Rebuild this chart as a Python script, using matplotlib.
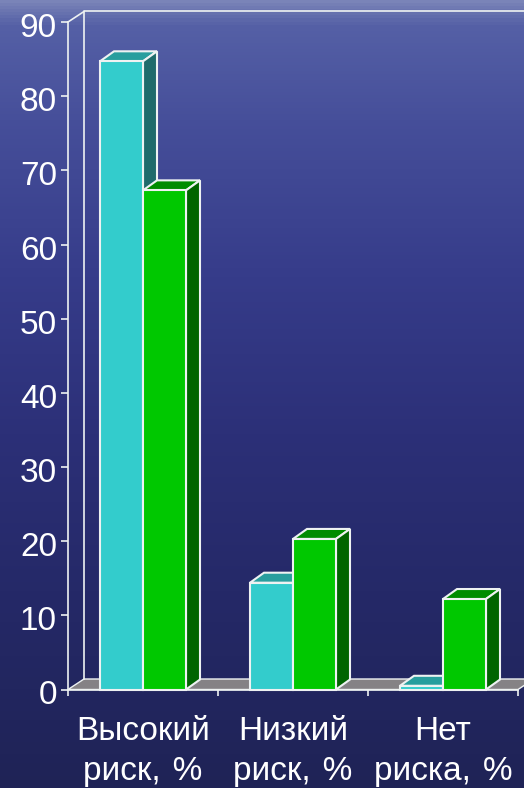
import matplotlib
matplotlib.use("Agg")
import matplotlib.pyplot as plt
import numpy as np
from matplotlib.colors import LinearSegmentedColormap
from matplotlib.patches import Polygon
from matplotlib.transforms import ScaledTranslation

plt.rcParams['font.family'] = ['Liberation Sans', 'DejaVu Sans']

categories = ["Высокий\nриск, \u200a%", "Низкий\nриск, \u200a%", "Нет\nриска, \u200a%"]
series_cyan = [84.7, 14.4, 0.5]
series_green = [67.3, 20.3, 12.2]
y_ticks = [0, 10, 20, 30, 40, 50, 60, 70, 80, 90]

W, H = 524, 788
fig = plt.figure(figsize=(W / 100, H / 100), dpi=100)

# background gradient
bg = fig.add_axes([0, 0, 1, 1], zorder=0)
bg_cmap = LinearSegmentedColormap.from_list("bg", [
    (0.00, "#7a84b8"), (0.03, "#5560a6"), (0.15, "#464f9a"), (0.35, "#363c8a"),
    (0.55, "#2c3078"), (0.75, "#252968"), (1.00, "#1f2356"),
])
bg.imshow(np.linspace(0, 1, 256).reshape(-1, 1), cmap=bg_cmap, aspect="auto", extent=[0, 1, 0, 1])
bg.axis("off")

# plot area in pixels: x 68..518, y 689.5..22
ax = fig.add_axes([68 / W, 1 - 689.5 / H, 450 / W, 667.5 / H], zorder=1)
ax.patch.set_alpha(0)
ax.set_xlim(0, 3)
ax.set_ylim(0, 90)

# depth of the 3d effect in data units
px_y = 667.5 / 90
floor_dx = 16 / 150
floor_dy = 10.5 / px_y
dx = 14 / 150
dy = 10 / px_y
bar_w = 43 / 150
edge = "#eef2f2"
lw = 1.5


def box(x0, w, h, front, top, side, z):
    ax.bar(x0, h, w, align="edge", color=front, edgecolor=edge, linewidth=lw, zorder=z + 1, clip_on=False)
    ax.add_patch(Polygon([(x0, h), (x0 + dx, h + dy), (x0 + w + dx, h + dy), (x0 + w, h)],
                         fc=top, ec=edge, lw=lw, zorder=z, clip_on=False))
    ax.add_patch(Polygon([(x0 + w, 0), (x0 + w + dx, dy), (x0 + w + dx, h + dy), (x0 + w, h)],
                         fc=side, ec=edge, lw=lw, zorder=z, clip_on=False))


# floor and back wall
ax.add_patch(Polygon([(0, 0), (floor_dx, floor_dy), (3 + floor_dx, floor_dy), (3, 0)],
                     fc="#858285", ec=edge, lw=1, zorder=1, clip_on=False))
ax.plot([floor_dx, floor_dx, 3 + floor_dx], [floor_dy, 90 + floor_dy, 90 + floor_dy],
        color=edge, lw=1.2, zorder=2, clip_on=False)
ax.plot([0, floor_dx], [90, 90 + floor_dy], color=edge, lw=1.2, zorder=2, clip_on=False)

for i in range(len(categories)):
    c = i + 0.5
    box(c - bar_w, bar_w, series_cyan[i], "#33cccc", "#289e9e", "#1f6b6b", 3)
    box(c, bar_w, series_green[i], "#00c800", "#008c00", "#006400", 6)

for s in ["top", "right"]:
    ax.spines[s].set_visible(False)
for s in ["left", "bottom"]:
    ax.spines[s].set_color(edge)
    ax.spines[s].set_linewidth(1.2)
    ax.spines[s].set_zorder(10)

ax.set_yticks(y_ticks)
ax.set_xticks(range(4))
ax.set_xticklabels([])
ax.set_xticks([0.5, 1.5, 2.5], labels=categories, minor=True)
ax.tick_params(axis="x", which="minor", length=0, colors="white", labelsize=24, pad=19)
ax.tick_params(axis="x", which="major", length=4, color=edge, width=1.2)
ax.tick_params(axis="y", length=5, color=edge, width=1.2, labelcolor="white", labelsize=24, pad=3)
for t in ax.get_xticklabels(minor=True):
    t.set_linespacing(1.36)
# numbers sit a little below their ticks in the original
shift = ScaledTranslation(0, -3 / 100, fig.dpi_scale_trans)
for t in ax.get_yticklabels():
    t.set_transform(t.get_transform() + shift)

fig.savefig("out.png", dpi=100)
